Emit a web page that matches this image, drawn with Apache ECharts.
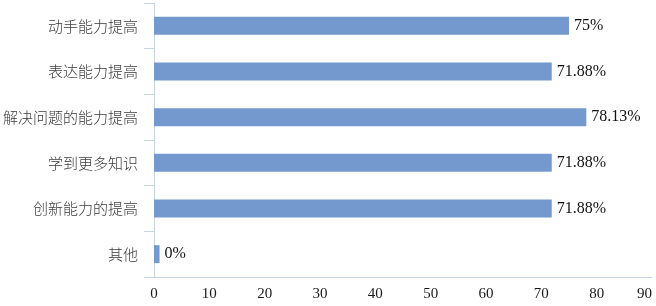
<!DOCTYPE html>
<html>
<head>
<meta charset="utf-8">
<script src="https://cdn.jsdelivr.net/npm/echarts@6/dist/echarts.min.js"></script>
<style>
  html, body { margin:0; padding:0; background:#fff; }
  #chart { width:656px; height:306px; }
</style>
</head>
<body>
<div id="chart"></div>
<script>
const categories = ['动手能力提高','表达能力提高','解决问题的能力提高','学到更多知识','创新能力的提高','其他'];
const values = [75, 71.88, 78.13, 71.88, 71.88, 1];
const valueLabels = ['75%','71.88%','78.13%','71.88%','71.88%','0%'];
const xTicks = [0, 10, 20, 30, 40, 50, 60, 70, 80, 90];

const chart = echarts.init(document.getElementById('chart'));
const axisColor = '#c6d4e3';

chart.setOption({
  animation: false,
  grid: {left:153, right:4, top:3, bottom:29},
  xAxis: {
    type:'value',
    min: xTicks[0],
    max: xTicks[xTicks.length - 1],
    interval: 10,
    axisLine:{show:true, lineStyle:{color:axisColor, width:1}},
    axisTick:{show:false},
    splitLine:{show:false},
    axisLabel:{
      fontFamily:'Liberation Serif', fontSize:15, color:'#1a1a1a', margin:10,
      alignMaxLabel:'right'
    }
  },
  yAxis: {
    type:'category',
    inverse:true,
    data: categories,
    axisLine:{show:true, lineStyle:{color:axisColor, width:1}},
    axisTick:{show:true, length:10, lineStyle:{color:axisColor}},
    axisLabel:{fontFamily:'Noto Sans CJK SC', fontWeight:300, fontSize:15, color:'#3a3a3a', margin:16}
  },
  series: [{
    type:'bar',
    data: values,
    barWidth: 18,
    itemStyle:{color:'#7399cf'},
    label:{
      show:true,
      position:'right',
      distance:5,
      fontFamily:'Liberation Serif',
      fontSize:16,
      color:'#111',
      formatter: p => valueLabels[p.dataIndex]
    }
  }]
});
</script>
</body>
</html>
